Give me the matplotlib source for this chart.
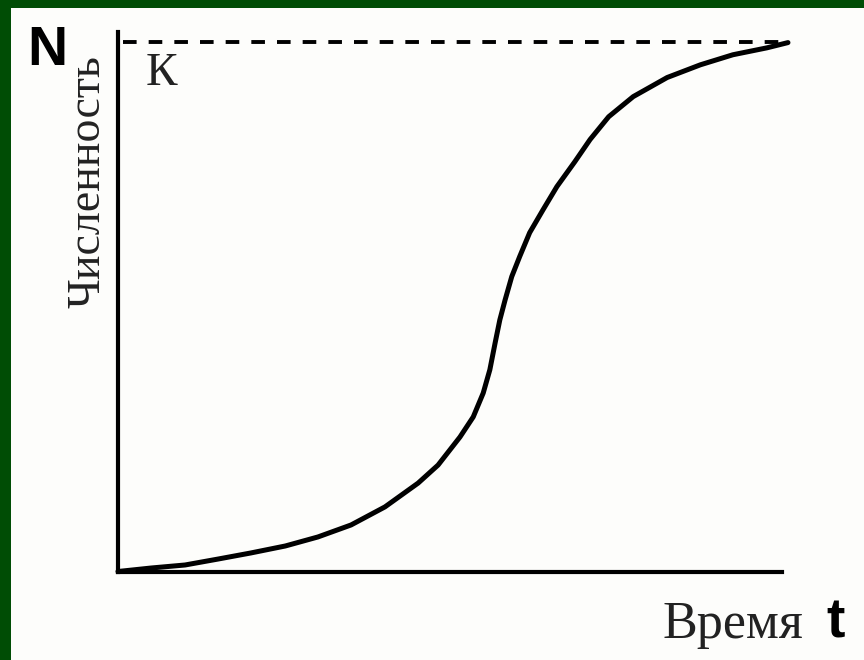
import matplotlib
matplotlib.use("Agg")
import matplotlib.pyplot as plt
from matplotlib.patches import Rectangle

# Logistic growth curve (t in arbitrary units, N in % of K)
time = [0, 0.50, 1.01, 1.51, 2.00, 2.52, 3.01, 3.51, 4.02, 4.52, 4.82, 5.15,
        5.35, 5.50, 5.60, 5.68, 5.75, 5.83, 5.93, 6.05, 6.20, 6.40, 6.61,
        6.88, 7.11, 7.39, 7.76, 8.27, 8.77, 9.26, 9.77, 10.09]
population = [0, 0.66, 1.23, 2.36, 3.50, 4.82, 6.52, 8.79, 12.2, 16.7, 20.1,
              25.4, 29.2, 33.7, 38.1, 43.2, 47.5, 51.3, 55.7, 59.5, 64.0, 68.3,
              72.7, 77.4, 81.6, 85.9, 89.7, 93.3, 95.7, 97.6, 98.9, 99.9]
capacity = 100
k_line_start, k_line_end = 0.08, 10.12

W, H = 864, 660
GREEN = "#004d05"
SERIF = ["Liberation Serif", "DejaVu Serif"]
SANS = ["Liberation Sans", "DejaVu Sans"]

fig = plt.figure(figsize=(W / 100, H / 100), dpi=100, facecolor=GREEN)

# white sheet over the green slide background
fig.patches.append(Rectangle((11 / W, 0), 1 - 11 / W, (H - 8) / H,
                             transform=fig.transFigure, facecolor="#fdfdfb",
                             edgecolor="none", zorder=-5))

ax = fig.add_axes([118 / W, (H - 571.5) / H, (782 - 118) / W, (571.5 - 32) / H])
ax.set_zorder(2)
ax.set_facecolor("none")
ax.set_xlim(0, 10)
ax.set_ylim(0, 101.9)
for side in ("top", "right"):
    ax.spines[side].set_visible(False)
for side in ("left", "bottom"):
    ax.spines[side].set_linewidth(3)
    ax.spines[side].set_color("black")
ax.set_xticks([])
ax.set_yticks([])

ax.plot(time, population, color="black", lw=3.6, solid_capstyle="round",
        solid_joinstyle="round", clip_on=False)
ax.hlines(capacity, k_line_start, k_line_end, colors="black", lw=2.8,
          linestyles=(0, (3.5, 3.1)), clip_on=False)

def px(x, y):
    return x / W, 1 - y / H

fig.text(*px(27, 65), "N", family=SANS, weight="bold", fontsize=40,
         va="baseline", ha="left", zorder=3)
fig.text(*px(146, 85), "К", family=SERIF, fontsize=34, va="baseline",
         ha="left", color="#222222", zorder=3)
fig.text(*px(88, 55), "Численность", family=SERIF, fontsize=33,
         rotation=90, va="top", ha="center", color="#222222", zorder=3)
fig.text(*px(662, 638), "Время", family=SERIF, fontsize=37.5, va="baseline",
         ha="left", color="#222222", zorder=3)
fig.text(*px(826, 638), "t", family=SANS, weight="bold", fontsize=40,
         va="baseline", ha="left", zorder=3)

fig.savefig("out.png", dpi=100, facecolor=GREEN)
